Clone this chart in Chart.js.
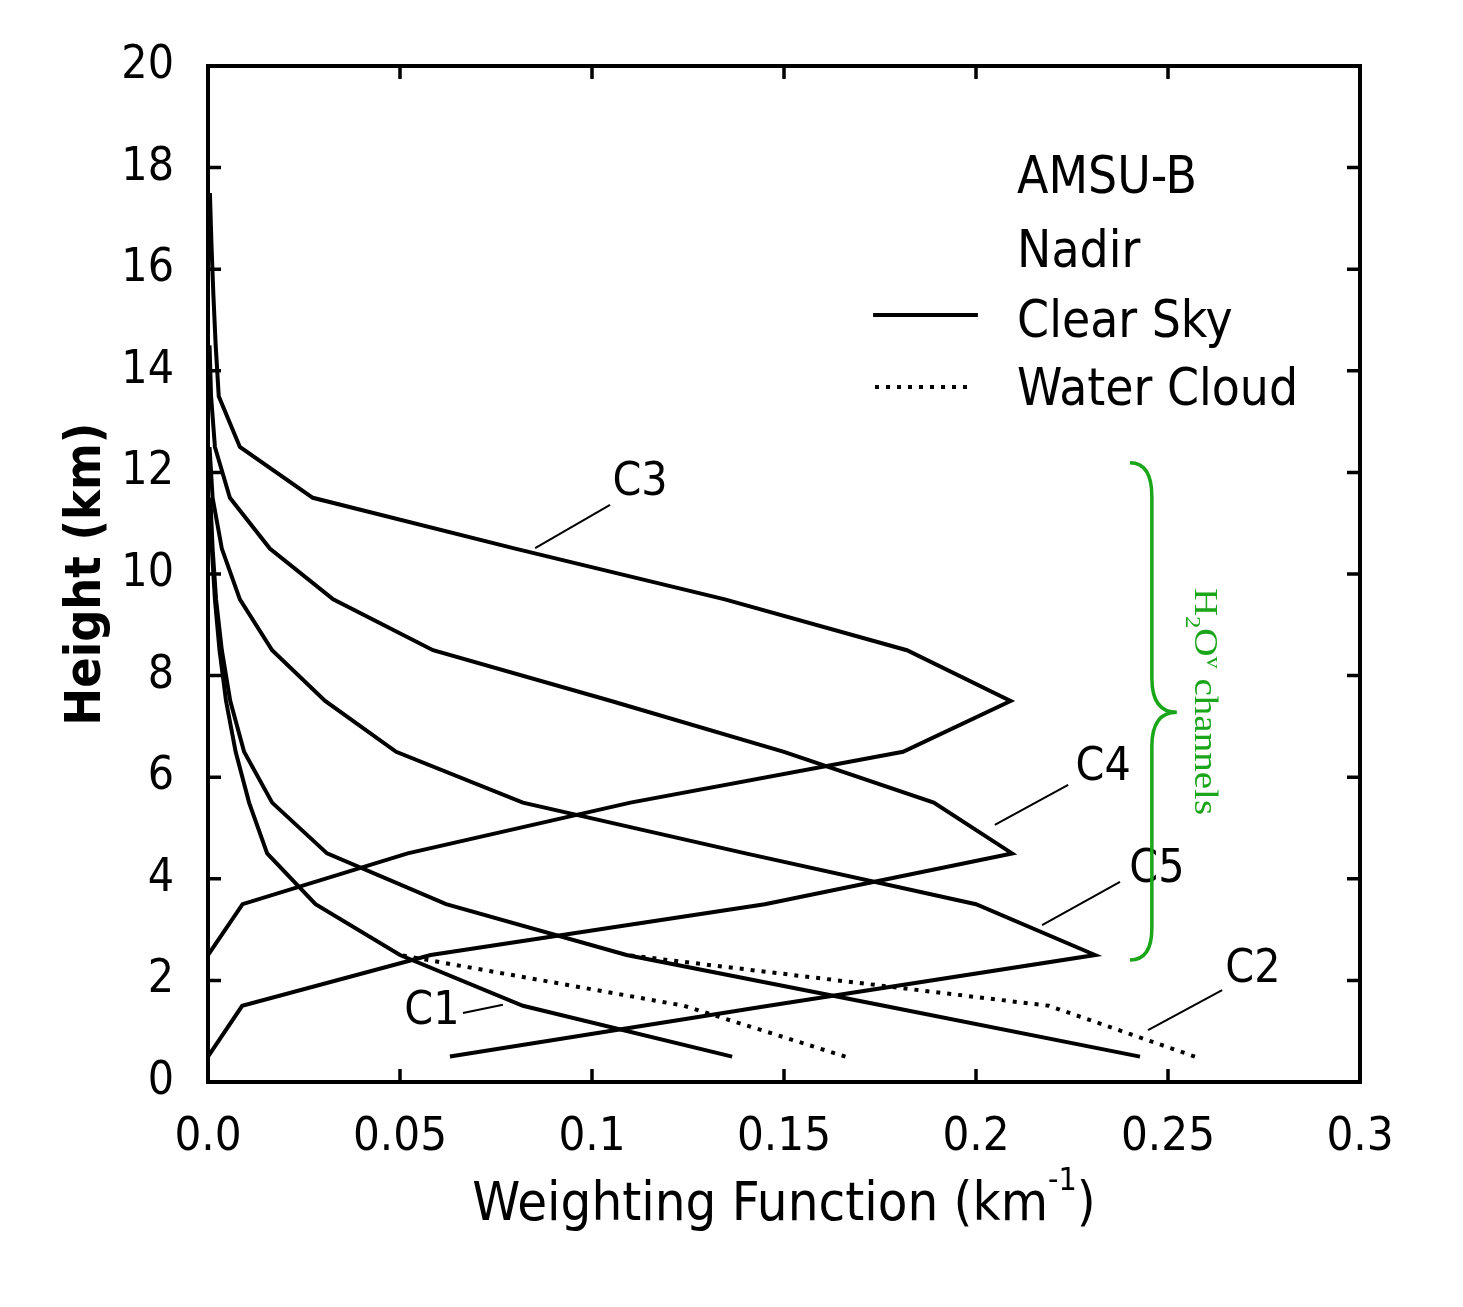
<!DOCTYPE html>
<html>
<head>
<meta charset="utf-8">
<script src="https://cdn.jsdelivr.net/npm/chart.js@4.4.1/dist/chart.umd.min.js"></script>
<style>
  html, body { margin: 0; padding: 0; background: #fff; }
  #wrap { width: 1463px; height: 1307px; }
</style>
</head>
<body>
<div id="wrap"><canvas id="chart-1" width="1463" height="1307"></canvas></div>
<script>
// sample heights (km) of the weighting functions
const heights = [0.5, 1.5, 2.5, 3.5, 4.5, 5.5, 6.5, 7.5, 8.5, 9.5, 10.5, 11.5, 12.5, 13.5, 14.5, 15.5, 16.5, 17.5];

// clear sky weighting functions (km^-1)
const c1Clear = [0.1365, 0.082, 0.050, 0.028, 0.0154, 0.0107, 0.0072, 0.0047, 0.0030, 0.0018, 0.0010, 0.0005, null, null, null, null, null, null];
const c2Clear = [0.2427, 0.176, 0.109, 0.062, 0.031, 0.0167, 0.0094, 0.0058, 0.0036, 0.0021, 0.0012, 0.0006, null, null, null, null, null, null];
const c3Clear = [null, null, 0.0, 0.009, 0.052, 0.110, 0.181, 0.209, 0.182, 0.1346, 0.080, 0.0273, 0.0083, 0.0028, 0.0020, 0.0014, 0.0009, 0.0005];
const c4Clear = [0.0, 0.0089, 0.058, 0.145, 0.2094, 0.189, 0.150, 0.105, 0.0586, 0.0326, 0.0161, 0.0057, 0.0018, 0.0008, 0.0004, null, null, null];
const c5Clear = [0.063, 0.146, 0.231, 0.200, 0.140, 0.082, 0.049, 0.0305, 0.0167, 0.0083, 0.0036, 0.0012, 0.0004, null, null, null, null, null];

// water cloud weighting functions (only where they leave the clear sky ones)
const c1Cloud = [0.166, 0.124, 0.050, null, null, null, null, null, null, null, null, null, null, null, null, null, null, null];
const c2Cloud = [0.257, 0.219, 0.109, null, null, null, null, null, null, null, null, null, null, null, null, null, null, null];

// axes
const xTicks = [0, 0.05, 0.1, 0.15, 0.2, 0.25, 0.3];
const xTickLabels = ['0.0', '0.05', '0.1', '0.15', '0.2', '0.25', '0.3'];
const yTicks = [0, 2, 4, 6, 8, 10, 12, 14, 16, 18, 20];

const SANS = "'DejaVu Sans Condensed', 'DejaVu Sans', sans-serif";
const GREEN = '#1aa51a';

function toPoints(vals) {
  let pts = [];
  for (let i = 0; i < vals.length; i++) {
    if (vals[i] === null) continue;
    pts.push({ x: vals[i], y: heights[i] });
  }
  return pts;
}

function solid(vals) {
  return { data: toPoints(vals), showLine: true, borderColor: '#000', borderWidth: 4, pointRadius: 0, tension: 0, fill: false };
}
function dotted(vals) {
  return { data: toPoints(vals), showLine: true, borderColor: '#000', borderWidth: 4, borderDash: [4, 7], pointRadius: 0, tension: 0, fill: false };
}

// text labels and pointers, in data coordinates
const channelLabels = [
  { text: 'C1', at: [0.0583, 1.38], from: [0.0664, 1.36], to: [0.0768, 1.52] },
  { text: 'C2', at: [0.2721, 2.20], from: [0.2641, 1.81], to: [0.2448, 1.02] },
  { text: 'C3', at: [0.1125, 11.79], from: [0.1047, 11.36], to: [0.0852, 10.51] },
  { text: 'C4', at: [0.2331, 6.18], from: [0.2240, 5.85], to: [0.2049, 5.06] },
  { text: 'C5', at: [0.2471, 4.17], from: [0.2375, 3.94], to: [0.2172, 3.09] }
];

const annotate = {
  id: 'annotate',
  afterDatasetsDraw(chart) {
    const ctx = chart.ctx;
    const a = chart.chartArea;
    const px = v => chart.scales.x.getPixelForValue(v);
    const py = v => chart.scales.y.getPixelForValue(v);
    ctx.save();

    // frame and inward ticks on all sides
    ctx.strokeStyle = '#000';
    ctx.lineWidth = 4;
    ctx.strokeRect(a.left, a.top, a.right - a.left, a.bottom - a.top);
    ctx.lineWidth = 3.5;
    ctx.beginPath();
    xTicks.forEach(v => {
      const x = px(v);
      ctx.moveTo(x, a.bottom); ctx.lineTo(x, a.bottom - 13);
      ctx.moveTo(x, a.top); ctx.lineTo(x, a.top + 13);
    });
    yTicks.forEach(v => {
      const y = py(v);
      ctx.moveTo(a.left, y); ctx.lineTo(a.left + 13, y);
      ctx.moveTo(a.right, y); ctx.lineTo(a.right - 13, y);
    });
    ctx.stroke();

    // channel labels
    ctx.fillStyle = '#000';
    ctx.font = '46px ' + SANS;
    ctx.textAlign = 'center';
    ctx.textBaseline = 'middle';
    ctx.lineWidth = 2;
    channelLabels.forEach(l => {
      ctx.fillText(l.text, px(l.at[0]), py(l.at[1]));
      ctx.beginPath();
      ctx.moveTo(px(l.from[0]), py(l.from[1]));
      ctx.lineTo(px(l.to[0]), py(l.to[1]));
      ctx.stroke();
    });

    // legend
    ctx.textAlign = 'left';
    ctx.textBaseline = 'alphabetic';
    ctx.font = '51px ' + SANS;
    const lx = px(0.2107);
    ctx.fillText('AMSU-B', lx, py(17.5));
    ctx.fillText('Nadir', lx, py(16.04));
    ctx.fillText('Clear Sky', lx, py(14.67));
    ctx.fillText('Water Cloud', lx, py(13.33));
    ctx.lineWidth = 4;
    ctx.beginPath();
    ctx.moveTo(px(0.1732), py(15.10));
    ctx.lineTo(px(0.2005), py(15.10));
    ctx.stroke();
    ctx.setLineDash([4, 7]);
    ctx.beginPath();
    ctx.moveTo(px(0.1737), py(13.68));
    ctx.lineTo(px(0.1990), py(13.68));
    ctx.stroke();
    ctx.setLineDash([]);

    // green brace for the water vapour channels
    const xl = px(0.2401), xs = px(0.2458), xt = px(0.2523);
    const yTop = py(12.19), yTop2 = py(11.52), yMid = py(7.28), yB2 = py(3.03), yBot = py(2.40);
    const r = yTop2 - yTop;
    ctx.strokeStyle = GREEN;
    ctx.lineWidth = 3.5;
    ctx.beginPath();
    ctx.moveTo(xl, yTop);
    ctx.quadraticCurveTo(xs, yTop, xs, yTop2);
    ctx.lineTo(xs, yMid - r);
    ctx.quadraticCurveTo(xs, yMid, xt, yMid);
    ctx.quadraticCurveTo(xs, yMid, xs, yMid + r);
    ctx.lineTo(xs, yB2);
    ctx.quadraticCurveTo(xs, yBot, xl, yBot);
    ctx.stroke();

    // "H2Ov channels", rotated, reading downwards
    ctx.save();
    ctx.translate(1195, 588);
    ctx.rotate(Math.PI / 2);
    ctx.scale(1.15, 1);
    ctx.fillStyle = GREEN;
    ctx.textAlign = 'left';
    ctx.textBaseline = 'alphabetic';
    const big = "34px 'Liberation Serif', 'DejaVu Serif', serif";
    const small = "21px 'Liberation Serif', 'DejaVu Serif', serif";
    let cx = 0;
    ctx.font = big; ctx.fillText('H', cx, 0); cx += ctx.measureText('H').width;
    ctx.font = small; ctx.fillText('2', cx, 9); cx += ctx.measureText('2').width;
    ctx.font = big; ctx.fillText('O', cx, 0); cx += ctx.measureText('O').width;
    ctx.font = small; ctx.fillText('v', cx, -12); cx += ctx.measureText('v').width;
    ctx.font = big; ctx.fillText(' channels', cx, 0);
    ctx.restore();

    // axis titles
    ctx.fillStyle = '#000';
    ctx.font = '54px ' + SANS;
    const t1 = 'Weighting Function (km';
    const t2 = ')';
    const w1 = ctx.measureText(t1).width;
    const w3 = ctx.measureText(t2).width;
    ctx.font = '32px ' + SANS;
    const w2 = ctx.measureText('-1').width;
    let tx = (a.left + a.right) / 2 - (w1 + w2 + w3) / 2;
    const ty = 1220;
    ctx.font = '54px ' + SANS;
    ctx.fillText(t1, tx, ty);
    ctx.font = '32px ' + SANS;
    ctx.fillText('-1', tx + w1, ty - 30);
    ctx.font = '54px ' + SANS;
    ctx.fillText(t2, tx + w1 + w2, ty);

    ctx.save();
    ctx.translate(100, (a.top + a.bottom) / 2);
    ctx.rotate(-Math.PI / 2);
    ctx.textAlign = 'center';
    ctx.font = "bold 50px 'Liberation Sans Narrow', 'DejaVu Sans Condensed', sans-serif";
    ctx.fillText('Height (km)', 0, 0);
    ctx.restore();

    ctx.restore();
  }
};

new Chart(document.getElementById('chart-1'), {
  type: 'scatter',
  data: {
    datasets: [
      solid(c1Clear), solid(c2Clear), solid(c3Clear), solid(c4Clear), solid(c5Clear),
      dotted(c1Cloud), dotted(c2Cloud)
    ]
  },
  options: {
    responsive: false,
    animation: false,
    layout: { padding: { top: 66, right: 103, left: 0, bottom: 0 } },
    plugins: { legend: { display: false }, tooltip: { enabled: false } },
    scales: {
      x: {
        type: 'linear', min: 0, max: 0.3,
        afterBuildTicks: s => { s.ticks = xTicks.map(v => ({ value: v })); },
        afterFit: s => { s.height = 225; },
        grid: { display: false },
        border: { display: false },
        ticks: {
          padding: 20, color: '#000', maxRotation: 0, autoSkip: false,
          font: { family: SANS, size: 47 },
          callback: (v, i) => xTickLabels[i]
        }
      },
      y: {
        type: 'linear', min: 0, max: 20,
        afterBuildTicks: s => { s.ticks = yTicks.map(v => ({ value: v })); },
        afterFit: s => { s.width = 208; },
        grid: { display: false },
        border: { display: false },
        ticks: {
          padding: 26, color: '#000', autoSkip: false,
          font: { family: SANS, size: 46 },
          callback: v => String(v)
        }
      }
    }
  },
  plugins: [annotate]
});
</script>
</body>
</html>
